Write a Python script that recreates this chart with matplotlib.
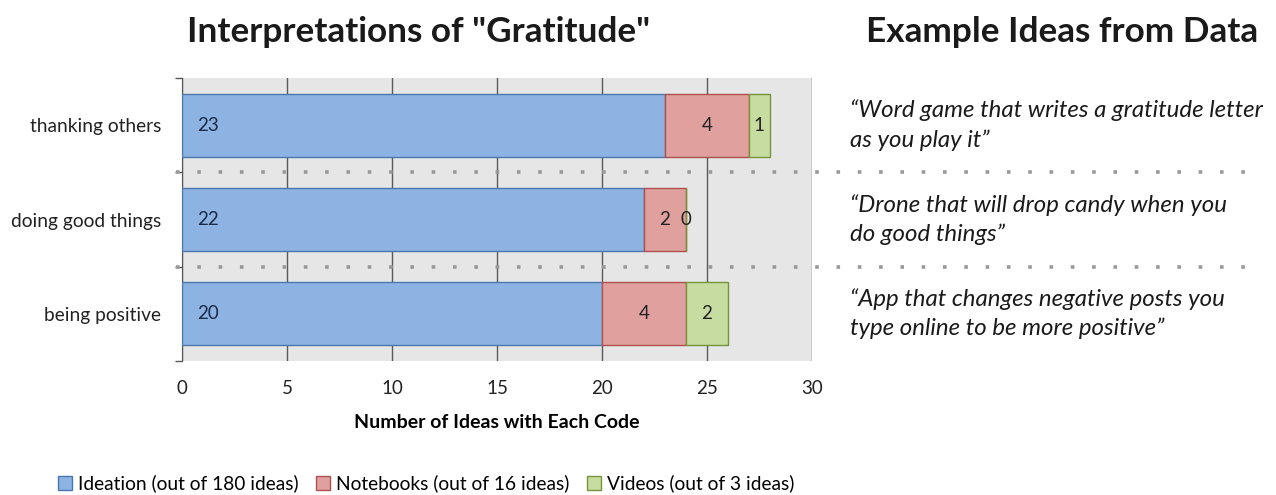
import numpy as np
import matplotlib.pyplot as plt
from matplotlib.patches import Patch

plt.rcParams['font.family'] = ['Lato', 'DejaVu Sans']

categories = ["being positive", "doing good things", "thanking others"]
ideation = [20, 22, 23]
notebooks = [4, 2, 4]
videos = [2, 0, 1]

series_labels = ["Ideation (out of 180 ideas)", "Notebooks (out of 16 ideas)",
                 "Videos (out of 3 ideas)"]
quotes = [
    "\u201cApp that changes negative posts you\ntype online to be more positive\u201d",
    "\u201cDrone that will drop candy when you\ndo good things\u201d",
    "\u201cWord game that writes a gratitude letter\nas you play it\u201d",
]

blue, blue_edge = "#8DB3E2", "#4A76AE"
red, red_edge = "#E0A09E", "#B0504E"
green, green_edge = "#C7DCA0", "#77933C"

fig = plt.figure(figsize=(12.76, 4.95), dpi=100)
ax = fig.add_axes([0.1426, 0.2707, 0.4937, 0.5717])
ax.set_facecolor("#E6E6E6")

y = np.arange(len(categories))
h = 0.67
ideation = np.array(ideation)
notebooks = np.array(notebooks)
videos = np.array(videos)

ax.barh(y, ideation, height=h, color=blue, edgecolor=blue_edge, lw=1, zorder=3)
ax.barh(y, notebooks, left=ideation, height=h, color=red, edgecolor=red_edge, lw=1, zorder=3)
ax.barh(y, videos, left=ideation + notebooks, height=h, color=green,
        edgecolor=green_edge, lw=1, zorder=3)

for i in range(len(y)):
  ax.text(0.7, y[i], str(ideation[i]), ha="left", va="center", fontsize=13.5,
          color="#1B2A47", zorder=4)
  ax.text(ideation[i] + notebooks[i] / 2, y[i], str(notebooks[i]), ha="center",
          va="center", fontsize=13.5, color="#222222", zorder=4)
  ax.text(ideation[i] + notebooks[i] + videos[i] / 2, y[i], str(videos[i]),
          ha="center", va="center", fontsize=13.5, color="#222222", zorder=4)

ax.set_xlim(0, 30)
ax.set_ylim(-0.5, 2.5)
ax.set_xticks(np.arange(0, 31, 5))
ax.tick_params(axis="x", length=0, labelsize=13.5, pad=14, colors="#222222")
ax.grid(axis="x", color="#5A5A5A", lw=1, zorder=1)
ax.set_yticks(y)
ax.set_yticklabels(categories)
ax.tick_params(axis="y", which="major", length=0, labelsize=13.8, pad=15, colors="#222222")
ax.set_yticks([-0.5, 0.5, 1.5, 2.5], minor=True)
ax.tick_params(axis="y", which="minor", length=5, color="#555555", width=1)

for s in ["top", "right", "bottom"]:
  ax.spines[s].set_visible(False)
ax.spines["left"].set_color("#555555")

ax.set_xlabel("Number of Ideas with Each Code", fontsize=14, fontweight="bold",
              labelpad=12)

# dotted separators run across into the quotes column
for yb in [0.5, 1.5]:
  ax.plot([-0.3, 50.9], [yb, yb], color="#999999", lw=2.6,
          linestyle=(0, (1, 4.9)), clip_on=False, zorder=5)

for i in range(len(y)):
  ax.text(31.8, y[i], quotes[i], ha="left", va="center", fontsize=17.3,
          style="italic", color="#1a1a1a", linespacing=1.45, transform=ax.transData)

fig.text(0.328, 0.915, "Interpretations of \"Gratitude\"", ha="center", va="baseline",
         fontsize=25.3, fontweight="bold", color="#1a1a1a")
fig.text(0.832, 0.915, "Example Ideas from Data", ha="center", va="baseline",
         fontsize=25.3, fontweight="bold", color="#1a1a1a")

handles = [Patch(facecolor=blue, edgecolor=blue_edge),
           Patch(facecolor=red, edgecolor=red_edge),
           Patch(facecolor=green, edgecolor=green_edge)]
fig.legend(handles, series_labels, loc="lower left", bbox_to_anchor=(0.032, -0.03),
           ncol=3, frameon=False, fontsize=13.8, handlelength=0.75, handleheight=0.75,
           handletextpad=0.3, columnspacing=0.9)

fig.savefig("out.png", dpi=100)
